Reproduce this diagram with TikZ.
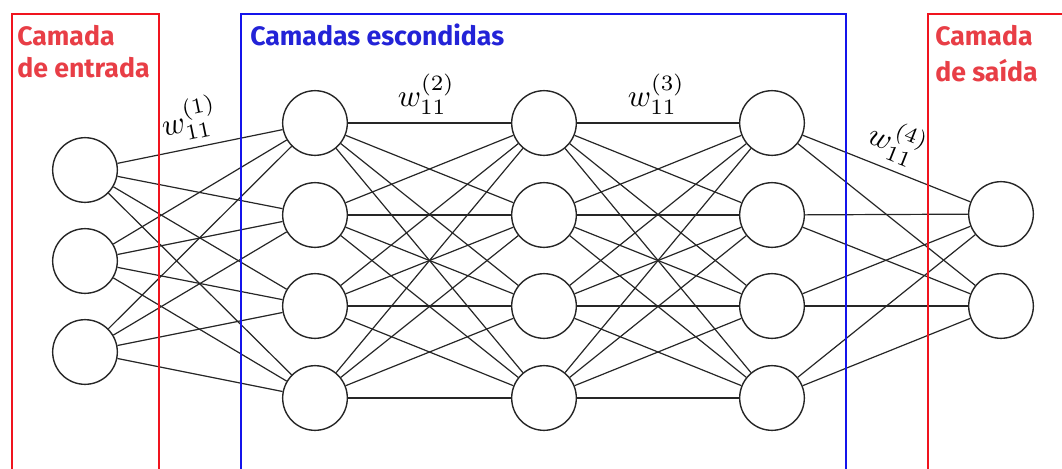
\documentclass[tikz,border=0pt]{standalone}
\usepackage{fontspec}
\newfontfamily\headfont{Fira Sans}
\definecolor{layerred}{RGB}{240,20,30}
\definecolor{headred}{RGB}{232,62,70}
\definecolor{layerblue}{RGB}{20,20,235}
\definecolor{headblue}{RGB}{35,35,215}
\newcommand{\wlabel}[1]{\scalebox{2.35}{$w_{11}^{(#1)}$}}
\begin{document}
\begin{tikzpicture}[x=0.75pt,y=-0.75pt,
  neuron/.style={circle,draw=black!85,line width=1.05pt,fill=white,minimum size=48.5pt,inner sep=0pt},
  link/.style={draw=black!85,line width=0.9pt},
  frame/.style={line width=2.2pt},
  heading/.style={anchor=base west,inner sep=0pt,font=\headfont\bfseries\fontsize{20}{24}\selectfont},
  weight/.style={inner sep=2pt,sloped,above=4pt}]
\useasboundingbox (0,0) rectangle (1062,468);

% input layer
\foreach \k/\y in {1/170,2/261,3/352} \node[neuron] (i\k) at (85,\y) {};
% hidden layers
\foreach \k/\y in {1/123,2/215,3/306,4/398} {
  \node[neuron] (a\k) at (315,\y) {};
  \node[neuron] (b\k) at (544,\y) {};
  \node[neuron] (c\k) at (772,\y) {};
}
% output layer
\foreach \k/\y in {1/214,2/306} \node[neuron] (o\k) at (1001,\y) {};

% fully connected links
\foreach \p in {1,2,3} \foreach \q in {1,2,3,4} \draw[link] (i\p) -- (a\q);
\foreach \p in {1,2,3,4} \foreach \q in {1,2,3,4} {
  \draw[link] (a\p) -- (b\q);
  \draw[link] (b\p) -- (c\q);
}
\foreach \p in {1,2,3,4} \foreach \q in {1,2} \draw[link] (c\p) -- (o\q);

% weight labels
\path (i1) -- node[weight,pos=0.47] (w1) {\wlabel{1}} (a1);
\path (a1) -- node[weight,pos=0.48] (w2) {\wlabel{2}} (b1);
\path (b1) -- node[weight,pos=0.49] (w3) {\wlabel{3}} (c1);
\path (c1) -- node[weight,pos=0.50] (w4) {\wlabel{4}} (o1);

% layer frames
\draw[frame,layerred] (12,470) |- (159,14) -- (159,470);
\draw[frame,layerblue] (241,470) |- (846,14) -- (846,470);
\draw[frame,layerred] (928,470) |- (1070,14);

% layer headings
\node[heading,headred] (hin1) at (17,45) {Camada};
\node[heading,headred] (hin2) at (17,77) {de entrada};
\node[heading,headblue] (hhid) at (250,45) {Camadas escondidas};
\node[heading,headred] (hout1) at (935,45) {Camada};
\node[heading,headred] (hout2) at (935,81) {de saída};
\end{tikzpicture}
\end{document}
